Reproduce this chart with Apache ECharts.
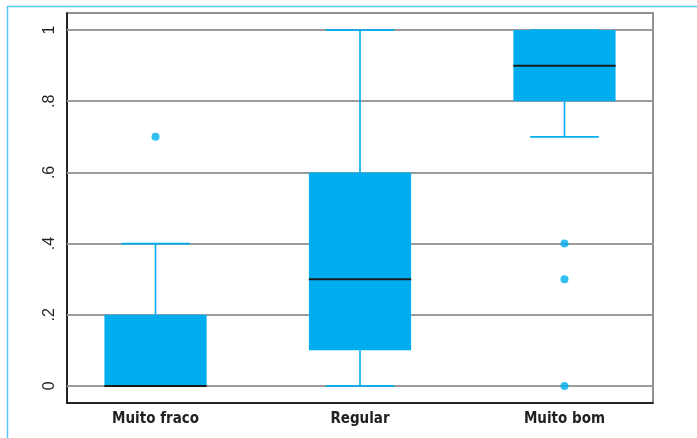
<!DOCTYPE html>
<html>
<head>
<meta charset="utf-8">
<script src="https://cdn.jsdelivr.net/npm/echarts@6/dist/echarts.min.js"></script>
<style>
html,body{margin:0;padding:0;background:#fff;}
#main{width:697px;height:438px;}
</style>
</head>
<body>
<div id="main"></div>
<script>
const categories = ['Muito fraco', 'Regular', 'Muito bom'];
// [lower whisker, Q1, median, Q3, upper whisker]
const boxValues = [
  [0, 0, 0, 0.2, 0.4],
  [0, 0.1, 0.3, 0.6, 1.0],
  [0.7, 0.8, 0.9, 1.0, 1.0]
];
// outliers: [category index, value]
const outliers = [
  [0, 0.7],
  [2, 0.4],
  [2, 0.3],
  [2, 0.0]
];
const yTicks = [0, 0.2, 0.4, 0.6, 0.8, 1];
const yTickLabels = ['0', '.2', '.4', '.6', '.8', '1'];

const BLUE = '#00aeef';
const chart = echarts.init(document.getElementById('main'), null, {renderer: 'canvas'});

const boxData = boxValues.map((v, i) => [i + 1].concat(v));
const outlierData = outliers.map(o => [o[0] + 1, o[1]]);

function renderBox(params, api) {
  const x = api.value(0);
  const low = api.value(1), q1 = api.value(2), med = api.value(3), q3 = api.value(4), high = api.value(5);
  const bw = api.size([0.5, 0])[0];
  const cw = api.size([0.335, 0])[0];
  const pLow = api.coord([x, low]), pQ1 = api.coord([x, q1]), pMed = api.coord([x, med]);
  const pQ3 = api.coord([x, q3]), pHigh = api.coord([x, high]);
  const cx = pMed[0];
  const lineStyle = {stroke: BLUE, lineWidth: 1.6, fill: null};
  return {
    type: 'group',
    children: [
      {type: 'line', shape: {x1: cx, y1: pQ3[1], x2: cx, y2: pHigh[1]}, style: lineStyle},
      {type: 'line', shape: {x1: cx, y1: pQ1[1], x2: cx, y2: pLow[1]}, style: lineStyle},
      {type: 'line', shape: {x1: cx - cw / 2, y1: pHigh[1], x2: cx + cw / 2, y2: pHigh[1]}, style: lineStyle},
      {type: 'line', shape: {x1: cx - cw / 2, y1: pLow[1], x2: cx + cw / 2, y2: pLow[1]}, style: lineStyle},
      {type: 'rect', shape: {x: cx - bw / 2, y: pQ3[1], width: bw, height: Math.max(pQ1[1] - pQ3[1], 0)}, style: {fill: BLUE}},
      {type: 'line', shape: {x1: cx - bw / 2, y1: pMed[1], x2: cx + bw / 2, y2: pMed[1]}, style: {stroke: '#1a1a1a', lineWidth: 2}}
    ]
  };
}

chart.setOption({
  animation: false,
  backgroundColor: '#fff',
  grid: {left: 67, right: 44, top: 13, bottom: 35, show: true, borderColor: '#6e6e6e', borderWidth: 1.5},
  xAxis: {
    type: 'value', min: 0.567, max: 3.433,
    axisLine: {show: true, onZero: false, lineStyle: {color: '#000', width: 1.5}},
    axisTick: {show: false},
    splitLine: {show: false},
    axisLabel: {
      customValues: [1, 2, 3],
      formatter: v => categories[Math.round(v) - 1] || '',
      fontFamily: 'DejaVu Sans Condensed', fontWeight: 'bold', fontSize: 15, color: '#231f20', margin: 9
    }
  },
  yAxis: {
    type: 'value', min: -0.048, max: 1.048,
    axisLine: {show: true, onZero: false, lineStyle: {color: '#000', width: 1.5}},
    axisTick: {show: false},
    splitLine: {show: false},
    axisLabel: {
      customValues: yTicks,
      formatter: v => { const i = yTicks.findIndex(t => Math.abs(t - v) < 1e-6); return i >= 0 ? yTickLabels[i] : ''; },
      rotate: 90, fontFamily: 'Liberation Sans', fontSize: 16, color: '#231f20', margin: 9
    }
  },
  graphic: [
    {type: 'line', shape: {x1: 7, y1: 6.5, x2: 697, y2: 6.5}, style: {stroke: '#55c8f4', lineWidth: 1.5}, silent: true},
    {type: 'line', shape: {x1: 7.5, y1: 6, x2: 7.5, y2: 438}, style: {stroke: '#55c8f4', lineWidth: 1.5}, silent: true}
  ],
  series: [
    {
      type: 'line', data: [], z: 1, silent: true,
      markLine: {
        z: 1, silent: true, symbol: 'none', label: {show: false},
        lineStyle: {color: '#9b9b9b', width: 2, type: 'solid'},
        data: yTicks.map(t => ({yAxis: t}))
      }
    },
    {
      type: 'custom', renderItem: renderBox, data: boxData, z: 10,
      encode: {x: 0, y: [1, 2, 3, 4, 5]}
    },
    {
      type: 'scatter', data: outlierData, z: 11, symbolSize: 8,
      itemStyle: {color: BLUE}
    }
  ]
});
</script>
</body>
</html>
